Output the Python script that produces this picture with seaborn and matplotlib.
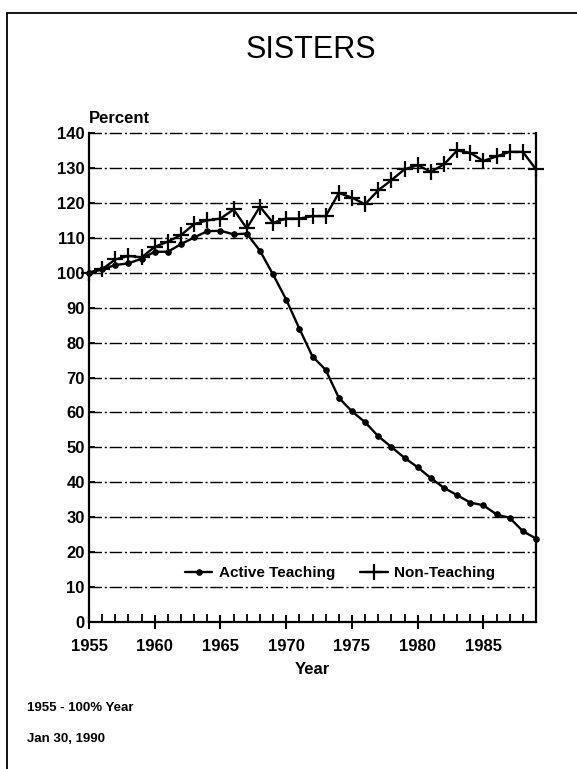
import matplotlib
matplotlib.use("Agg")
import matplotlib.pyplot as plt
import seaborn as sns
from matplotlib.lines import Line2D
from matplotlib.ticker import MultipleLocator

years = list(range(1955, 1990))

active_teaching = [100, 101, 102.2, 102.7, 104, 106, 106, 108.2, 110.1, 111.9,
                   112, 111, 111.2, 106.3, 99.5, 92.3, 84, 76, 72.2, 64.2,
                   60.3, 57.2, 53.2, 50.1, 47, 44.3, 41.2, 38.4, 36.3, 34.2,
                   33.4, 30.8, 29.8, 26, 23.9]

non_teaching = [100, 101, 103.8, 104.8, 104.4, 107.4, 108.9, 110.8, 113.9, 115,
                115.5, 118.1, 112.7, 118.9, 114.3, 115.5, 115.5, 116.2, 116.2, 122.8,
                121.5, 119.6, 123.6, 126.5, 129.6, 130.8, 128.9, 131, 135, 134.3,
                132, 133.3, 134.6, 134.6, 129.6]

x_ticks = [1955, 1960, 1965, 1970, 1975, 1980, 1985]
y_ticks = list(range(0, 150, 10))

sns.set_style("white")
plt.rcParams['font.family'] = ['Liberation Sans', 'DejaVu Sans']
plt.rcParams['text.color'] = 'black'
plt.rcParams['axes.labelcolor'] = 'black'
plt.rcParams['xtick.color'] = 'black'
plt.rcParams['ytick.color'] = 'black'

fig = plt.figure(figsize=(5.77, 7.69), dpi=100)
ax = fig.add_axes([89 / 577, 1 - 622 / 769, 447 / 577, 489 / 769])

sns.lineplot(x=years, y=active_teaching, ax=ax, color='black', lw=1.7,
             marker='o', markersize=4, markeredgecolor='black',
             label='Active Teaching', clip_on=False, zorder=5)
sns.lineplot(x=years, y=non_teaching, ax=ax, color='black', lw=1.7,
             marker='+', markersize=11, markeredgewidth=1.6,
             markeredgecolor='black', label='Non-Teaching', clip_on=False,
             zorder=5)

ax.set_xlim(1955, 1989)
ax.set_ylim(0, 140)
ax.set_xticks(x_ticks)
ax.xaxis.set_minor_locator(MultipleLocator(1))
ax.set_yticks(y_ticks)

# dash-dot gridlines like the scanned original
for v in y_ticks[1:]:
    ax.axhline(v, color='black', lw=1.0, ls=(0, (9, 2, 1.5, 2)), zorder=0,
               clip_on=False)

ax.tick_params(axis='x', which='major', direction='inout', length=10, width=1.5,
               pad=7, labelsize=12, bottom=True)
ax.tick_params(axis='x', which='minor', direction='in', length=6, width=1.3,
               bottom=True)
ax.tick_params(axis='y', which='major', direction='in', length=4, width=1.3,
               pad=3, labelsize=12, left=True)
for lab in ax.get_xticklabels() + ax.get_yticklabels():
    lab.set_fontweight('bold')

for side in ['left', 'bottom', 'right']:
    ax.spines[side].set_visible(True)
    ax.spines[side].set_color('black')
    ax.spines[side].set_linewidth(1.6)
ax.spines['top'].set_visible(False)

ax.set_xlabel('Year', fontsize=12, fontweight='bold', labelpad=6)
ax.set_ylabel('')
ax.text(0.0, 1.015, 'Percent', transform=ax.transAxes, fontsize=12,
        fontweight='bold', ha='left', va='bottom')

leg = ax.legend(loc='center', bbox_to_anchor=(0.562, 0.1), ncol=2, frameon=False,
                handlelength=1.8, handletextpad=0.45, columnspacing=1.6,
                prop={'size': 11, 'weight': 'bold'})

fig.text(311 / 577, 1 - 50 / 769, 'SISTERS', fontsize=22, ha='center',
         va='center')
fig.text(27 / 577, 1 - 708 / 769, '1955 - 100% Year', fontsize=9.5,
         fontweight='bold', ha='left', va='center')
fig.text(27 / 577, 1 - 739 / 769, 'Jan 30, 1990', fontsize=9.5,
         fontweight='bold', ha='left', va='center')

# frame of the scanned page
fig.add_artist(Line2D([7 / 577, 7 / 577], [0, 1 - 13 / 769], color='black',
                      lw=1.3, transform=fig.transFigure))
fig.add_artist(Line2D([7 / 577, 1], [1 - 13 / 769, 1 - 13 / 769], color='black',
                      lw=1.3, transform=fig.transFigure))

fig.savefig('out.png', dpi=100)
